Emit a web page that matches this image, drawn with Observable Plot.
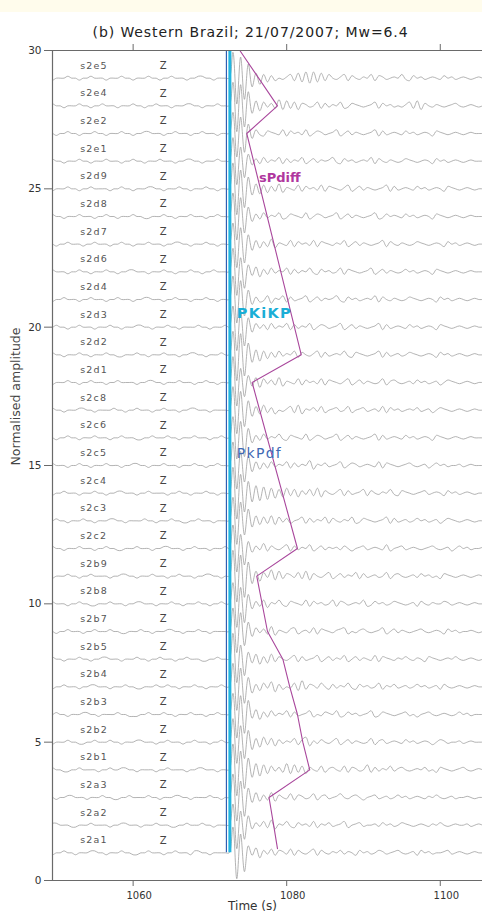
<!DOCTYPE html>
<html>
<head>
<meta charset="utf-8">
<script src="https://cdn.jsdelivr.net/npm/d3@7"></script>
<script src="https://cdn.jsdelivr.net/npm/@observablehq/plot@0.6"></script>
<style>
  html, body { margin: 0; padding: 0; background: #fff; }
  #wrap { position: relative; width: 482px; height: 916px; }
  #band { position: absolute; left: 0; top: 0; width: 482px; height: 12px; background: #fffcec; }
  #chart { position: absolute; left: 0; top: 0; }
  svg { background: transparent !important; }
</style>
</head>
<body>
<div id="wrap"><div id="band"></div><div id="chart"></div></div>
<script>
// ---------- data ----------
const titleText = "(b) Western Brazil; 21/07/2007; Mw=6.4";
const xLabel = "Time (s)";
const yLabel = "Normalised amplitude";
const xTicks = [1060, 1080, 1100];
const yTicks = [0, 5, 10, 15, 20, 25, 30];
const xDomain = [1049.5, 1105.5];
const yDomain = [0, 30];

const stations = ["s2a1","s2a2","s2a3","s2b1","s2b2","s2b3","s2b4","s2b5","s2b7","s2b8","s2b9",
  "s2c2","s2c3","s2c4","s2c5","s2c6","s2c8","s2d1","s2d2","s2d3","s2d4","s2d6","s2d7","s2d8","s2d9",
  "s2e1","s2e2","s2e4","s2e5"];
const offsets = [1,2,3,4,5,6,7,8,9,10,11,12,13,14,15,16,17,18,19,20,21,22,23,24,25,26,27,28,29];
const component = "Z";

// waveform samples (every 0.5 s), letters: 'm' = 0
const sampleStep = 0.5;
const noiseStep = 0.07;    // amplitude per letter, pre-arrival noise
const arrivalStep = 0.085; // amplitude per letter, first 6 samples of arrival
const codaStep = 0.045;    // amplitude per letter, coda
const arrivalCount = 6;
const preEnd = 1072;
const postStart = 1072.5;
const preNoise = [
"mmlmmnmmlmmmnnmmlmmmnmmllmmnmmmlmmnmmmlnnmmlmmmm",
"mmnnmmmllmmmnmmmmlmmnnmmmlmmmnmmmllmmnmmmnmmlmmm",
"mmmlmmnnmmmlmmmnmmllmmnmmmmnmmlmmmnnmmlmmmmnmmlm",
"mmnmmllmmnmmmmlmmnmmnnmmlmmmmlmmnmmmmlmmnnmmmlmm",
"mmlmmmnmmllmmnmmmnmmlmmmnnmmmlmmnmmmlmmnmmmlmmnm",
"mmmnmmlmmmnnmmlmmmmnmmlllmmnmmmnmmlmmmnmmmlmmnmm",
"mmlmmnmmmlmmnnmmmlmmmnmmllmmmnmmnmmlmmmnmmlmmmnm",
"mmnmmlmmmnmmlmmnnmmmlmmmnmmlmmnmmmlmmnmmmllmmnmm",
"mmmlmmnmmmlmmnmmmnmmllmmmnmmlmmmnnmmlmmmnmmlmmmm",
"mmnmmmlmmnmmllmmmnmmmlmmnnmmmlmmmnmmlmmmnmmlmmnm",
"mmlmmmnmmlmmnmmmmlmmnnmmlmmmnmmmlmmnmmmlmmnnmmlm",
"mmnmmlmmmnmmmlmmnmmllmmmnmmmlmmnnmmmlmmnmmmlmmmn",
"mmmnmmlmmmnmmlmmmnnmmlmmmmnmmlmmmnmmllmmnmmmlmmm",
"mmlmmnmmmlmmmnmmlmmnnmmmlmmnmmmmlmmnmmlmmmnmmlmm",
"mmnmmmlmmnmmlmmmnmmmlmmnnmmlmmmnmmmlmmmnmmlmmnmm",
"mmmlmmnmmlmmmnmmmlmmnmmmllmmnmmmnmmlmmmnmmmlmmnm",
"mmnmmlmmmnnmmlmmmmnmmlmmnmmmlmmnmmmlmmnnmmmlmmmm",
"mmlmmmnmmlmmnmmmlmmnmmmmlmmnnmmlmmmnmmmlmmnmmlmm",
"mmnmmlmmmnmmlmmmnmmllmmmnmmlmmmnmmmlmmnnmmlmmmnm",
"mmmnmmlmmnmmmlmmmnmmlmmmnnmmlmmmnmmlmmmmnmmlmmmn",
"mmlmmnmmmlmmnmmmlmmnmmmlmmnnmmmlmmnmmmlmmmnmmlmm",
"mmnmmmlmmnmmlmmmnmmlmmnnmmmlmmmnmmlmmmnmmlmmnmmm",
"mmmlmmnmmmlmmnmmmlmmnmmlmmmnmmmlmmnnmmlmmmnmmlmm",
"mmnmmlmmmnmmmlmmnmmlmmmnmmllmmmnmmlmmmnmmmlmmnmm",
"mmlmmmnmmlmmnmmmmlmmnmmlmmmnnmmlmmmnmmlmmmnmmlmm",
"mmnmmlmmmnmmlmmmnmmmlmmnmmlmmmnmmmlmmnnmmlmmmnmm",
"mmmlmmnmmlmmmnmmlmmmnmmlmmnnmmmlmmnmmmlmmnmmmlmm",
"mmnmmlmmmnmmlmmnmmmlmmmnmmlmmnmmmlmmmnnmmlmmmnmm",
"mmlmmmnmmlmmnmmmlmmmnmmlmmmnmmlmmnmmmlmmnnmmlmmm"
];
const postWave = [
"mxbuepkqiolpkonlpkomlnpkomlnmolnmkomnlmonlmnomlmnkomnlmmnolmnmlmnmm",
"mvcsgqjolpkqjnmplkomnlpknmolmnpkmnolmmnlomnlmonmlmnmlnmomlmnmmnlmnm",
"mwcteqiqjokqjomlpkonlmpknolmnpmlnomkmnolmnlmomnlmnmlnmomlmnlmmnmlmm",
"mxbuergrhqjplokrjqkpjomlpknomlpkonlmqkolnmplnomlmnmolmkonmlmnomlmnm",
"mwdtfrgpiqkpjolnmpkoqjnlomlnpkmolnmlmpknolmnmlomnlmnmkmonlmmnlmnmmm",
"mvcuesjqiokplnmpkolmnpkmlonmpklomnlmnpklonmlmnolmkmnomlmnmlmomnlmmm",
"mwcufqhojplqiokmlpjrkonlpmkolnmplkomnlmpknmolmnlmomnlmnkomlmnmlmnmm",
"mxcsfpjqiojqkomlnpkolmnpkmolnmpkmolnmlpkonmlnmomlnmkonmlmnmomlmnmlm",
"mwdugqiplokqjnmlopkmnlpkonmlnopkmlnomlmnpkmolnmlmnomlmnmkomnlmmnmlm",
"mvcteqiokpjnmplkonmlpkomnlmpkonlmnmpklomnlmonmlmnkomlnmmonlmnmlmnmm",
"mxbvdsgqiplrjqkonlpkqjomlnpkmolnmpkolmnlmpknomlmnlomnlmkonmlmnmlmnm",
"mwcsfpjolqkomlnpkolnmpkmolnmnlomkmnolmnmlpkmnolmnmlmnomlmnkmomnlmmn",
"mwcugrhqjpkqjplokmnpkolnmpkomlnmpklonmlmnpkolmnlmomnlmnkmonmlmnmlmm",
"mxbuerfsgrhqipjqkpjolpkqjomlnpkolmnpkomlnmplkonmlmnolmnmkomnlmnmlmm",
"mwcsfqhpjokplnmpkolnmqjnmolmnpkmonlmnmlpkonmlmnomlmnkmomnlmmnlmnmmm",
"mvdteqiokplnmplkonmlpkmonlmnpkmolnmlmnpkolmnmlomnlmnmkonmlmnmlmnmmm",
"mwcufqhpjqkojmlnpkqjnmolpkmnolmpkmnolmnlpkomnlmnmolmnkmonmlmnmlmnmm",
"mxcsgpjqiplokqjnmlpkomnlpkonmlnpkmolnmlmpknomlmnlomnlmnkmonmlmnmlmm",
"mwbvdrgqhpjokplnmpkomlnpkolmnmplkonmlmnpkolmnlmonmlmnmkomnlmnmlmnmm",
"mvcteqiplokplnmpkolnmpkmonlmnpkmolnmlmnpkolmnmlomnlmnmkonmlmnmlmnmm",
"mwcufqioklpjnmpkolmnpkmolnmnplkomnlmnmpkomlnmlmonmlmnmkomnlmnmlmnmm",
"mwcsfpjqiokplnmpkolnmplkomnlmpkonmlmnpkmolnmlmomnlmnmkonmlmnmlmnmmm",
"mvcteqhpjokqjnmlpkomnlpkonmlnmpkmolnmlmnpkomlnmlmonmlmnmkomnlmnmlmm",
"mwcufqiokplnmpklonmlpkmonlmnpkmolnmlmnpklomnmlomnlmnmkonmlmnmlmnmmm",
"mxbuerhqipjokqjnmlpkomnlpkonmlnpkmolnmlmnpkolmnmlomnlmnmkonmlmnmlmm",
"mwcsfpjokplnmpkolnmpkmolnmnplkomnlmnmpkomlnmlmonmlmnmkomnlmnmlmnmmm",
"mvcteqiplkonmlpkomnlpkmonlmnpkmolnmlmnpkolmnmlomnlmnmkonmlmnmlmnmmm",
"mwbvdsgqiplokrjqkpjonlmpkolnmpklonmlmnpkomnlmlnpkqjomlnmlmnomlmnmlm",
"mxbvdsfqhpjokmlnpkqjrirjqkpmlnpkomlnmpkonlmnmplkomnlmnmlomnlmnmlmnm"
];

// phase picks
const pkpdfTime = 1072.15;   // PkPdf (blue)
const pkikpTime = 1072.6;    // PKiKP (cyan)
const sPdiffY    = [30, 28, 27, 19, 18, 12, 11, 9, 8, 7, 6, 5, 4, 3, 2, 1.15];
const sPdiffTime = [1073.9, 1078.8, 1074.8, 1081.9, 1075.5, 1081.4, 1076.1, 1077.5, 1079.5, 1080.4, 1081.4, 1082.1, 1083.0, 1077.7, 1078.3, 1078.8];
const phaseLabels = ["sPdiff", "PKiKP", "PkPdf"];
const phaseLabelTime = [1076.4, 1073.5, 1073.5];
const phaseLabelY = [25.4, 20.5, 15.45];
const phaseColors = ["#b0379e", "#1aaed6", "#4169b4"];
const phaseSizes = [13, 14.5, 14];
const phaseWeights = ["bold", "bold", "normal"];

// ---------- build rows ----------
const traceRows = [];
stations.forEach((s, k) => {
  const pre = preNoise[k], post = postWave[k];
  for (let i = 0; i < pre.length; i++) {
    traceRows.push({station: s, t: preEnd - sampleStep * (pre.length - 1 - i), v: offsets[k] + (pre.charCodeAt(i) - 109) * noiseStep});
  }
  for (let i = 0; i < post.length; i++) {
    const step = i < arrivalCount ? arrivalStep : codaStep;
    traceRows.push({station: s, t: postStart + sampleStep * i, v: offsets[k] + (post.charCodeAt(i) - 109) * step});
  }
});
const labelRows = stations.map((s, k) => ({station: s, y: offsets[k] + 0.45}));
const sPdiffRows = sPdiffY.map((y, i) => ({t: sPdiffTime[i], y}));
const phaseRows = phaseLabels.map((p, i) => ({p, t: phaseLabelTime[i], y: phaseLabelY[i], c: phaseColors[i], s: phaseSizes[i], w: phaseWeights[i]}));

const font = "'DejaVu Sans', Verdana, sans-serif";
const axisColor = "#6a6a6a";

const chart = Plot.plot({
  width: 482,
  height: 916,
  marginLeft: 52,
  marginRight: 0,
  marginTop: 50,
  marginBottom: 36,
  style: {fontFamily: font, background: "transparent", color: "#333"},
  x: {domain: xDomain},
  y: {domain: yDomain},
  marks: [
    Plot.line(traceRows, {x: "t", y: "v", z: "station", stroke: "#9a9a9a", strokeWidth: 0.75, curve: "catmull-rom", clip: true}),
    Plot.ruleX([pkpdfTime], {y1: offsets[0], y2: yDomain[1], stroke: "#2f5fb3", strokeWidth: 1.2}),
    Plot.ruleX([pkikpTime], {y1: offsets[0], y2: yDomain[1], stroke: "#22b6e0", strokeWidth: 3}),
    Plot.line(sPdiffRows, {x: "t", y: "y", stroke: "#a9479c", strokeWidth: 1.1}),
    Plot.text(labelRows, {x: xDomain[0] + 3.6, y: "y", text: "station", textAnchor: "start", fontSize: 9.5, fill: "#555"}),
    Plot.text(labelRows, {x: 1063.9, y: "y", text: () => component, fontSize: 10, fill: "#444"}),
    ...phaseRows.map(r => Plot.text([r], {x: "t", y: "y", text: "p", fill: r.c, textAnchor: "start", fontSize: r.s, fontWeight: r.w})),
    Plot.ruleX([xDomain[0]], {stroke: axisColor, strokeWidth: 1.2}),
    Plot.ruleY([yDomain[0], yDomain[1]], {stroke: axisColor, strokeWidth: 1.2}),
    Plot.axisX({anchor: "bottom", ticks: xTicks, tickSize: 6, tickFormat: () => "", label: null, stroke: axisColor}),
    Plot.axisX({anchor: "top", ticks: xTicks, tickSize: 7, tickFormat: () => "", label: null, stroke: axisColor}),
    Plot.text(xTicks, {x: d => d, frameAnchor: "bottom", dy: 18, dx: 6, text: d => String(d), fontSize: 10, fill: "#333"}),
    Plot.axisY({anchor: "left", ticks: yTicks, tickSize: 8, tickPadding: 3, label: null, fontSize: 10.5, stroke: axisColor}),
    Plot.text([titleText], {frameAnchor: "top", dy: -23, dx: -17, fontSize: 14, fill: "#222"}),
    Plot.text([xLabel], {frameAnchor: "bottom", dy: 29, dx: -15, fontSize: 12, fill: "#333"}),
    Plot.text([yLabel], {frameAnchor: "left", dx: -37, rotate: -90, fontSize: 12.5, fill: "#444"})
  ]
});
// letter spacing tweaks (the reference glyphs are slightly widened)
const sel = d3.select(chart);
sel.selectAll("text").filter(function () { return this.textContent === titleText; }).attr("letter-spacing", 0.9);
sel.selectAll("text").filter(function () { return stations.includes(this.textContent); }).attr("letter-spacing", 1.2);
sel.selectAll("text").filter(function () { return this.textContent === "PKiKP" || this.textContent === "PkPdf"; }).attr("letter-spacing", 1.3);
document.getElementById("chart").appendChild(chart);
</script>
</body>
</html>
